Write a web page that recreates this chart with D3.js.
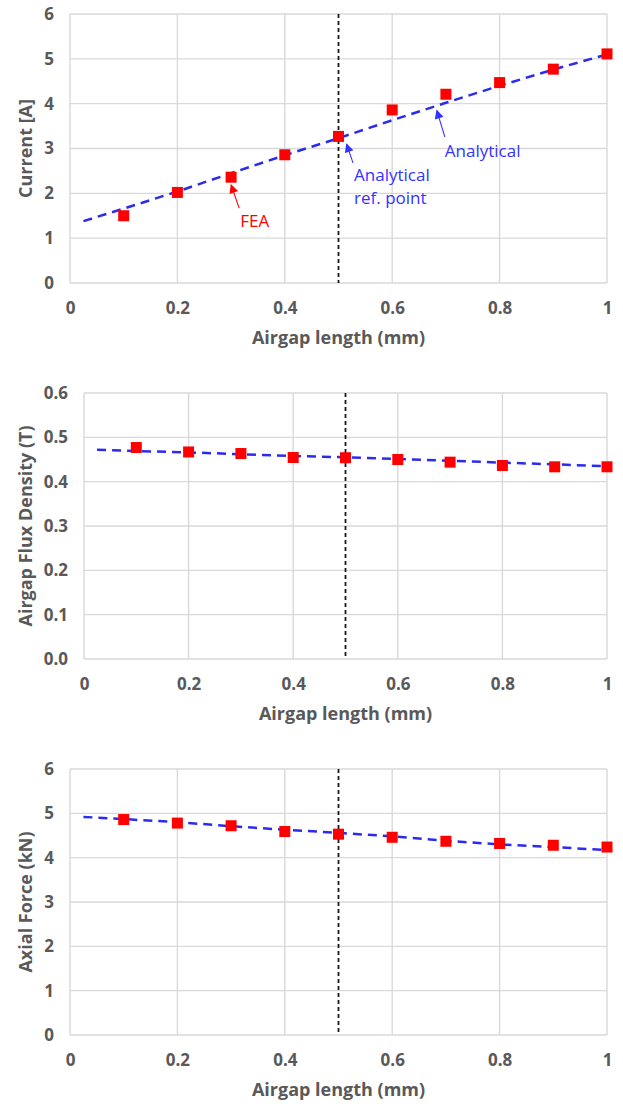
<!DOCTYPE html>
<html lang="en">
<head>
<meta charset="utf-8">
<title>Airgap length study</title>
<script src="https://cdn.jsdelivr.net/npm/d3@7/dist/d3.min.js"></script>
<style>
  body { margin: 0; background: #fff; }
  text { font-family: "Open Sans", sans-serif; }
</style>
</head>
<body>
<script>
// data
var feaX = [0.1, 0.2, 0.3, 0.4, 0.5, 0.6, 0.7, 0.8, 0.9, 1.0];
var anaX = [0.025, 0.1, 0.2, 0.3, 0.4, 0.5, 0.6, 0.7, 0.8, 0.9, 1.0];

var currentFEA = [1.50, 2.02, 2.36, 2.86, 3.27, 3.86, 4.21, 4.47, 4.77, 5.11];
var currentAna = [1.38, 1.66, 2.04, 2.45, 2.85, 3.23, 3.63, 4.02, 4.40, 4.76, 5.10];

var fluxFEA = [0.477, 0.467, 0.4635, 0.4545, 0.454, 0.450, 0.444, 0.4365, 0.4335, 0.4335];
var fluxAna = [0.472, 0.469, 0.466, 0.462, 0.458, 0.455, 0.451, 0.447, 0.443, 0.439, 0.435];

var forceFEA = [4.86, 4.78, 4.72, 4.59, 4.53, 4.46, 4.37, 4.32, 4.28, 4.24];
var forceAna = [4.92, 4.87, 4.80, 4.71, 4.63, 4.56, 4.48, 4.38, 4.30, 4.24, 4.17];

var xTicks = [0, 0.2, 0.4, 0.6, 0.8, 1];
var refX = 0.5;
var xTitle = "Airgap length (mm)";

var charts = [
  { title: "Current [A]", fea: currentFEA, ana: currentAna, yMax: 6, yTicks: [0,1,2,3,4,5,6], fmt: d3.format("d"),
    box: { left: 70, right: 607, top: 14, bottom: 283 } },
  { title: "Airgap Flux Density (T)", fea: fluxFEA, ana: fluxAna, yMax: 0.6, yTicks: [0,0.1,0.2,0.3,0.4,0.5,0.6], fmt: d3.format(".1f"),
    box: { left: 84, right: 607, top: 393, bottom: 659 } },
  { title: "Axial Force (kN)", fea: forceFEA, ana: forceAna, yMax: 6, yTicks: [0,1,2,3,4,5,6], fmt: d3.format("d"),
    box: { left: 70, right: 607, top: 769, bottom: 1035 } }
];

// annotations for the top chart, in data units
var notes = [
  { lines: ["FEA"], color: "#ff0000", tx: 0.317, ty: 1.25, from: [0.315, 1.67], to: [0.300, 2.19] },
  { lines: ["Analytical"], color: "#3333ff", tx: 0.698, ty: 2.81, from: [0.698, 3.26], to: [0.683, 3.85] },
  { lines: ["Analytical", "ref. point"], color: "#3333ff", tx: 0.529, ty: 2.28, from: [0.527, 2.68], to: [0.515, 3.10] }
];

var W = 623, H = 1107;
var grey = "#595959";
var gridCol = "#d9d9d9";

var svg = d3.select("body").append("svg")
  .attr("width", W).attr("height", H);

var defs = svg.append("defs");
["#ff0000", "#3333ff"].forEach(function(c, i) {
  defs.append("marker")
    .attr("id", "arr" + i)
    .attr("viewBox", "0 0 10 10")
    .attr("refX", 9).attr("refY", 5)
    .attr("markerWidth", 10).attr("markerHeight", 9)
    .attr("markerUnits", "userSpaceOnUse")
    .attr("orient", "auto")
    .append("path").attr("d", "M0,0 L10,5 L0,10 Z").attr("fill", c);
});

charts.forEach(function(c, ci) {
  var b = c.box;
  var x = d3.scaleLinear().domain([0, 1]).range([b.left, b.right]);
  var y = d3.scaleLinear().domain([0, c.yMax]).range([b.bottom, b.top]);
  var g = svg.append("g");

  // grid
  g.selectAll("line.hg").data(c.yTicks).enter().append("line")
    .attr("x1", b.left).attr("x2", b.right)
    .attr("y1", d => y(d)).attr("y2", d => y(d))
    .attr("stroke", gridCol).attr("stroke-width", 1.4);
  g.selectAll("line.vg").data(xTicks).enter().append("line")
    .attr("x1", d => x(d)).attr("x2", d => x(d))
    .attr("y1", b.top).attr("y2", b.bottom)
    .attr("stroke", gridCol).attr("stroke-width", 1.4);

  // axes (labels only)
  var ya = g.append("g").attr("transform", "translate(" + b.left + ",0)")
    .call(d3.axisLeft(y).tickValues(c.yTicks).tickFormat(c.fmt).tickSize(0).tickPadding(16));
  var xa = g.append("g").attr("transform", "translate(0," + b.bottom + ")")
    .call(d3.axisBottom(x).tickValues(xTicks).tickFormat(d => String(+d.toFixed(1))).tickSize(0).tickPadding(19));
  [ya, xa].forEach(function(a) {
    a.select(".domain").remove();
    a.selectAll("text").attr("fill", grey).attr("font-size", 17).attr("font-weight", "bold")
      .attr("font-family", "'Open Sans', sans-serif");
  });

  // axis titles
  g.append("text")
    .attr("x", (b.left + b.right) / 2).attr("y", b.bottom + 61)
    .attr("text-anchor", "middle").attr("fill", grey)
    .attr("font-size", 18).attr("font-weight", "bold")
    .text(xTitle);
  g.append("text")
    .attr("transform", "translate(" + 32 + "," + ((b.top + b.bottom) / 2) + ") rotate(-90)")
    .attr("text-anchor", "middle").attr("fill", grey)
    .attr("font-size", 18).attr("font-weight", "bold")
    .text(c.title);

  // reference line
  g.append("line")
    .attr("x1", x(refX)).attr("x2", x(refX))
    .attr("y1", b.top).attr("y2", b.bottom)
    .attr("stroke", "#1a1a1a").attr("stroke-width", 1.8)
    .attr("stroke-dasharray", "4,3");

  // analytical curve
  var line = d3.line().x((d, i) => x(anaX[i])).y(d => y(d));
  g.append("path").datum(c.ana)
    .attr("d", line)
    .attr("fill", "none").attr("stroke", "#2b2bf0")
    .attr("stroke-width", 2.5).attr("stroke-dasharray", "9,6");

  // FEA points
  g.selectAll("rect.fea").data(c.fea).enter().append("rect")
    .attr("x", (d, i) => x(feaX[i]) - 5.5)
    .attr("y", d => y(d) - 5.5)
    .attr("width", 11).attr("height", 11)
    .attr("fill", "#ff0000");

  if (ci === 0) {
    notes.forEach(function(n) {
      g.append("line")
        .attr("x1", x(n.from[0])).attr("y1", y(n.from[1]))
        .attr("x2", x(n.to[0])).attr("y2", y(n.to[1]))
        .attr("stroke", n.color).attr("stroke-width", 1.1)
        .attr("marker-end", "url(#arr" + (n.color === "#ff0000" ? 0 : 1) + ")");
      var t = g.append("text")
        .attr("x", x(n.tx)).attr("y", y(n.ty))
        .attr("fill", n.color).attr("font-size", 17);
      n.lines.forEach(function(s, k) {
        t.append("tspan").attr("x", x(n.tx)).attr("dy", k === 0 ? 0 : 23).text(s);
      });
    });
  }
});
</script>
</body>
</html>
